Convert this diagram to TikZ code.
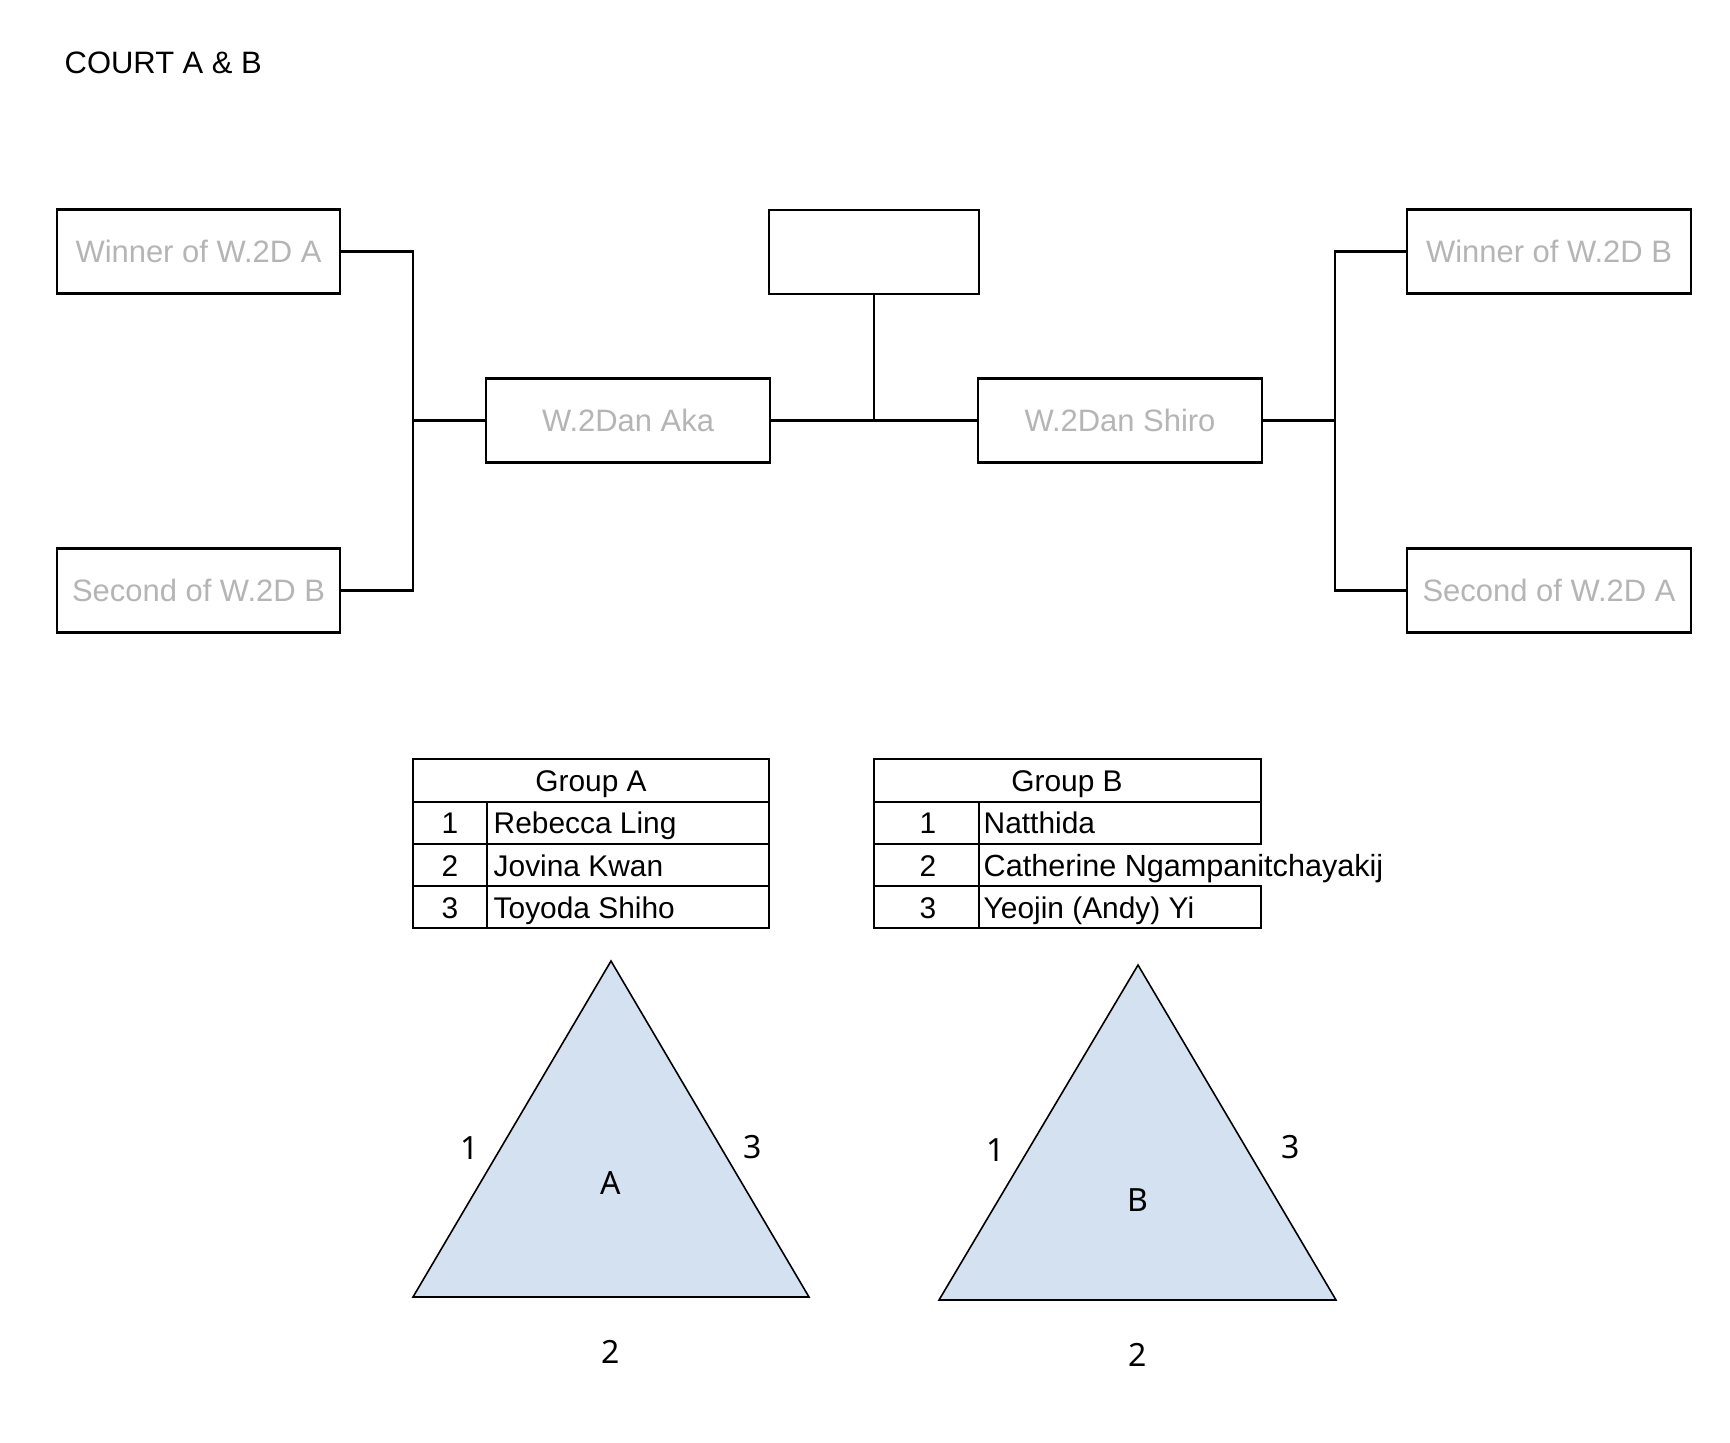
\documentclass[tikz,border=0pt]{standalone}
\usepackage{fontspec}
\setmainfont{Liberation Sans}
\newfontfamily\trifont{Noto Sans}
\definecolor{boxgray}{HTML}{B5B5B5}
\definecolor{triblue}{HTML}{D4E1F0}
\begin{document}
\begin{tikzpicture}[x=0.01cm,y=-0.01cm,
  bbox/.style={draw=black,line width=0.6pt,inner sep=0pt,minimum height=0.84cm,
    font=\fontsize{8.8}{10}\selectfont,text=boxgray},
  wide/.style={minimum width=2.83cm},
  conn/.style={line width=0.6pt},
  tline/.style={line width=0.6pt,line cap=rect},
  ttext/.style={font=\fontsize{8.5}{10}\selectfont,inner sep=0pt,anchor=base},
  tname/.style={ttext,anchor=base west},
  tri/.style={draw=black,fill=triblue,line width=0.45pt,line join=miter},
  tlab/.style={font=\trifont\fontsize{9.1}{10}\selectfont,inner sep=0pt}]
\useasboundingbox (0,0) rectangle (1730,1442);
\fill[white] (0,0) rectangle (1730,1442);
% title
\node[anchor=west,font=\fontsize{8.8}{10}\selectfont,inner sep=0pt] (title) at (64,63) {COURT A \& B};
% bracket boxes
\node[bbox,wide] (wa) at (198.5,251.5) {Winner of W.2D A};
\node[bbox,wide] (sb) at (198.5,590.5) {Second of W.2D B};
\node[bbox,wide] (aka) at (628,420.5) {W.2Dan Aka};
\node[bbox,minimum width=2.10cm] (top) at (874,252) {};
\node[bbox,wide] (shiro) at (1120,420.5) {W.2Dan Shiro};
\node[bbox,wide] (wb) at (1549,251.5) {Winner of W.2D B};
\node[bbox,wide] (sa) at (1549,590.5) {Second of W.2D A};
\coordinate (jl) at (413,420.5);
\coordinate (jr) at (1335,420.5);
\draw[conn] (wa.east) -| (jl) |- (sb.east);
\draw[conn] (jl) -- (aka.west);
\draw[conn] (aka.east) -- (shiro.west);
\draw[conn] (top.south) -- (top.south |- aka.east);
\draw[conn] (wb.west) -| (jr) |- (sa.west);
\draw[conn] (shiro.east) -- (jr);
% Group A table
\draw[tline] (413,759) rectangle (769,928);
\foreach \yy in {802,844,886} \draw[tline] (413,\yy) -- (769,\yy);
\draw[tline] (487,802) -- (487,928);
\node[ttext] (gah) at (591,791) {Group A};
\node[ttext] (ga1n) at (450,833) {1};
\node[ttext] (ga2n) at (450,876) {2};
\node[ttext] (ga3n) at (450,918) {3};
\node[tname] (ga1) at (493,833) {Rebecca Ling};
\node[tname] (ga2) at (493,876) {Jovina Kwan};
\node[tname] (ga3) at (493,918) {Toyoda Shiho};
% Group B table (row 2 right border hidden by overflowing text)
\draw[tline] (874,759) -- (1261,759) -- (1261,844);
\draw[tline] (1261,886) -- (1261,928) -- (874,928) -- (874,759);
\foreach \yy in {802,844,886} \draw[tline] (874,\yy) -- (1261,\yy);
\draw[tline] (979,802) -- (979,928);
\node[ttext] (gbh) at (1067,791) {Group B};
\node[ttext] (gb1n) at (928,833) {1};
\node[ttext] (gb2n) at (928,876) {2};
\node[ttext] (gb3n) at (928,918) {3};
\node[tname] (gb1) at (983,833) {Natthida};
\node[tname,font=\fontsize{8.7}{10}\selectfont] (gb2) at (983,876) {Catherine Ngampanitchayakij};
\node[tname] (gb3) at (983,918) {Yeojin (Andy) Yi};
% Triangle A
\draw[tri] (611,961) -- (413,1297) -- (809,1297) -- cycle;
\node[tlab] (ta1) at (470,1148) {1};
\node[tlab] (ta3) at (753,1147) {3};
\node[tlab] (taA) at (611,1183) {A};
\node[tlab] (ta2) at (611,1352) {2};
% Triangle B
\draw[tri] (1138,965) -- (939,1300) -- (1336,1300) -- cycle;
\node[tlab] (tb1) at (996,1150) {1};
\node[tlab] (tb3) at (1291,1147) {3};
\node[tlab] (tbB) at (1138,1200) {B};
\node[tlab] (tb2) at (1138,1355) {2};
\end{tikzpicture}
\end{document}
